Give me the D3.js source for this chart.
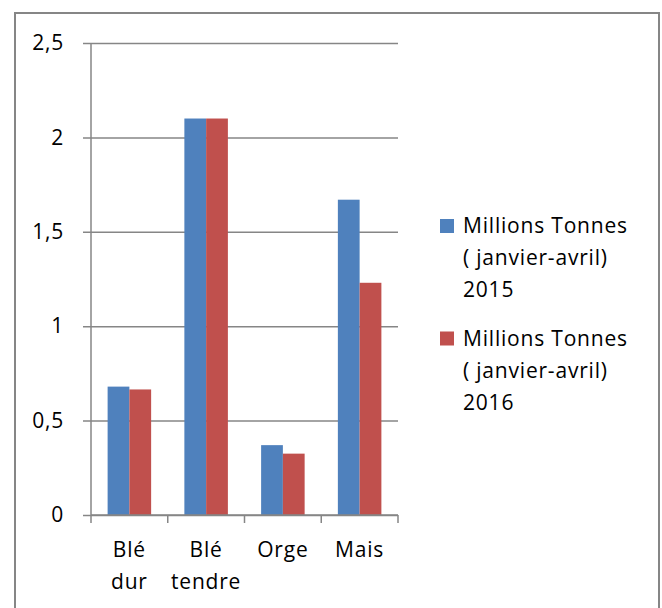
<!DOCTYPE html>
<html lang="fr">
<head>
	<meta charset="utf-8">
	<title>Céréales - janvier-avril</title>
	<script src="https://d3js.org/d3.v7.min.js"></script>
	<style>
		body {margin:0; background:#fff;}
		svg text {font-family:"Open Sans", "Noto Sans", sans-serif; fill:#000; letter-spacing:0.8px;}
	</style>
</head>
<body>
	<div id="chart"></div>
	<script>
		// data
		const categories = [["Blé", "dur"], ["Blé", "tendre"], ["Orge"], ["Mais"]];
		const values2015 = [0.68, 2.1, 0.37, 1.67];
		const values2016 = [0.665, 2.1, 0.325, 1.23];
		const yTicks = [0, 0.5, 1, 1.5, 2, 2.5];
		const seriesNames = [["Millions Tonnes", "( janvier-avril)", "2015"],
		                     ["Millions Tonnes", "( janvier-avril)", "2016"]];
		const colors = ["#4f81bd", "#c0504d"];

		const width = 662, height = 608;
		const plot = {left: 91, right: 398, top: 43, bottom: 515};
		const gray = "#868686";
		const fontSize = "21px";

		var svg = d3.select("#chart")
					.append("svg")
					.attr("width", width)
					.attr("height", height);

		// outer frame
		svg.append("rect")
			.attr("x", 15).attr("y", 13)
			.attr("width", 644).attr("height", 620)
			.attr("fill", "none")
			.attr("stroke", gray)
			.attr("stroke-width", 2);

		var y = d3.scaleLinear().domain([0, 2.5]).range([plot.bottom, plot.top]);
		var x = d3.scaleBand()
					.domain(d3.range(categories.length))
					.range([plot.left, plot.right])
					.paddingInner(0.433)
					.paddingOuter(0.2165);
		var xs = d3.scaleBand().domain([0, 1]).range([0, x.bandwidth()]);

		// gridlines + y axis
		var yAxis = d3.axisLeft(y)
					.tickValues(yTicks)
					.tickSize(-(plot.right - plot.left))
					.tickFormat(d => String(d).replace(".", ","));
		var gy = svg.append("g")
					.attr("transform", "translate(" + plot.left + ",0)")
					.call(yAxis);
		gy.select(".domain").remove();
		gy.selectAll(".tick line")
			.attr("x1", -8)
			.attr("stroke", gray)
			.attr("stroke-width", 1.5);
		gy.selectAll(".tick text")
			.attr("x", -27)
			.style("font-size", fontSize);
		svg.append("line")
			.attr("x1", plot.left).attr("x2", plot.left)
			.attr("y1", plot.top).attr("y2", plot.bottom)
			.attr("stroke", gray).attr("stroke-width", 1.5);

		// bars
		var series = [values2015, values2016];
		series.forEach(function (vals, s) {
			svg.append("g").selectAll("rect")
				.data(vals)
				.enter()
				.append("rect")
				.attr("x", function (d, i) { return x(i) + xs(s); })
				.attr("y", function (d) { return y(d); })
				.attr("width", xs.bandwidth())
				.attr("height", function (d) { return y(0) - y(d); })
				.attr("fill", colors[s]);
		});

		// x axis
		var xTickPos = d3.range(categories.length + 1).map(i => plot.left + i * (plot.right - plot.left) / categories.length);
		svg.append("line")
			.attr("x1", plot.left).attr("x2", plot.right)
			.attr("y1", plot.bottom).attr("y2", plot.bottom)
			.attr("stroke", gray).attr("stroke-width", 1.5);
		svg.append("g").selectAll("line")
			.data(xTickPos)
			.enter()
			.append("line")
			.attr("x1", d => d).attr("x2", d => d)
			.attr("y1", plot.bottom).attr("y2", plot.bottom + 8)
			.attr("stroke", gray).attr("stroke-width", 1.5);
		var labels = svg.append("g").selectAll("text")
			.data(categories)
			.enter()
			.append("text")
			.attr("x", (d, i) => x(i) + x.bandwidth() / 2)
			.attr("y", 557)
			.style("text-anchor", "middle")
			.style("font-size", fontSize);
		labels.selectAll("tspan")
			.data(d => d)
			.enter()
			.append("tspan")
			.attr("x", function () { return d3.select(this.parentNode).attr("x"); })
			.attr("dy", (d, i) => i === 0 ? 0 : 32)
			.text(d => d);

		// legend
		var legend = svg.append("g").selectAll("g")
			.data(seriesNames)
			.enter()
			.append("g")
			.attr("transform", (d, i) => "translate(440," + (219 + i * 112.5) + ")");
		legend.append("rect")
			.attr("width", 14).attr("height", 14)
			.attr("fill", (d, i) => colors[i]);
		var lt = legend.append("text")
			.attr("x", 23).attr("y", 14)
			.style("font-size", fontSize);
		lt.selectAll("tspan")
			.data(d => d)
			.enter()
			.append("tspan")
			.attr("x", 23)
			.attr("dy", (d, i) => i === 0 ? 0 : 32)
			.text(d => d);
	</script>
</body>
</html>
